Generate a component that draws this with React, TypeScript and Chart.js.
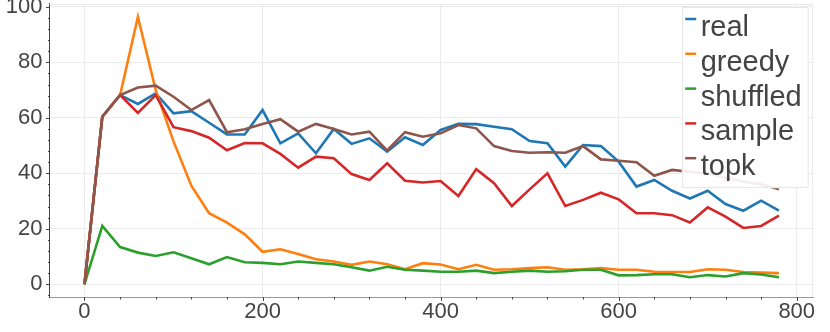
import React, { useEffect, useRef } from "react";
import { Chart, registerables } from "chart.js";

Chart.register(...registerables);

const X_VALUES = [
  0, 20, 40, 60, 80, 100, 120, 140, 160, 180, 200, 220, 240, 260, 280, 300, 320, 340, 360, 380,
  400, 420, 440, 460, 480, 500, 520, 540, 560, 580, 600, 620, 640, 660, 680, 700, 720, 740, 760, 780,
];

const REAL = [
  0, 60.4, 68.2, 65.0, 68.8, 61.6, 62.4, 58.2, 54.0, 54.0, 62.8, 50.8, 54.4, 47.2, 56.0, 50.6, 52.6, 47.8, 53.0, 50.2,
  55.6, 57.8, 57.7, 56.8, 55.9, 51.6, 50.8, 42.4, 50.2, 49.8, 44.2, 35.2, 37.6, 33.7, 30.9, 33.7, 28.9, 26.5, 30.1, 26.5,
];
const GREEDY = [
  0, 60.4, 68.2, 96.4, 70.0, 51.5, 35.5, 25.6, 22.2, 18.0, 11.7, 12.6, 10.9, 9.0, 8.2, 7.0, 8.2, 7.2, 5.4, 7.6,
  7.1, 5.4, 7.0, 5.2, 5.4, 5.8, 6.1, 5.2, 5.4, 5.8, 5.2, 5.2, 4.5, 4.4, 4.4, 5.4, 5.2, 4.4, 4.2, 4.0,
];
const SHUFFLED = [
  0, 21.0, 13.4, 11.4, 10.2, 11.5, 9.4, 7.2, 9.8, 7.9, 7.7, 7.2, 8.2, 7.7, 7.2, 6.1, 4.9, 6.3, 5.2, 4.9,
  4.5, 4.5, 4.9, 4.0, 4.5, 4.9, 4.5, 4.7, 5.2, 5.2, 3.2, 3.3, 3.6, 3.6, 2.5, 3.3, 2.8, 4.0, 3.5, 2.5,
];
const SAMPLE = [
  0, 60.4, 68.2, 61.8, 68.2, 56.6, 55.2, 52.8, 48.3, 50.9, 50.8, 47.0, 42.0, 46.0, 45.4, 39.7, 37.6, 43.6, 37.3, 36.7,
  37.2, 31.8, 41.5, 36.4, 28.2, 34.2, 40.0, 28.2, 30.4, 33.0, 30.6, 25.6, 25.6, 24.9, 22.3, 27.7, 24.4, 20.3, 21.0, 24.7,
];
const TOPK = [
  0, 60.4, 68.2, 70.9, 71.6, 67.6, 62.8, 66.4, 54.8, 55.9, 57.8, 59.5, 55.0, 57.8, 56.0, 54.0, 55.0, 48.2, 54.8, 53.2,
  54.4, 57.4, 56.2, 49.8, 48.0, 47.4, 47.6, 47.4, 49.8, 45.0, 44.5, 44.0, 39.1, 41.2, 40.5, 39.8, 38.5, 37.0, 36.0, 34.2,
];

const SERIES_LABELS = ["real", "greedy", "shuffled", "sample", "topk"];
const SERIES_VALUES = [REAL, GREEDY, SHUFFLED, SAMPLE, TOPK];
const SERIES_COLORS = ["#1f77b4", "#ff7f0e", "#2ca02c", "#d62728", "#8c564b"];

const X_MAJOR_TICKS = [0, 200, 400, 600, 800];
const X_MINOR_TICKS = [0, 40, 80, 120, 160, 200, 240, 280, 320, 360, 400, 440, 480, 520, 560, 600, 640, 680, 720, 760, 800];
const Y_MAJOR_TICKS = [0, 20, 40, 60, 80, 100];
const Y_MINOR_TICKS = [
  -4, 0, 4, 8, 12, 16, 20, 24, 28, 32, 36, 40, 44, 48, 52, 56, 60, 64, 68, 72, 76, 80, 84, 88, 92, 96, 100,
];

const FONT = "'Liberation Sans', Arial, sans-serif";
const TEXT_COLOR = "#444444";
const GRID_COLOR = "#ebebeb";

const framePlugin = {
  id: "frameTicks",
  beforeDatasetsDraw(chart: any) {
    const { ctx, chartArea } = chart;
    ctx.save();
    ctx.strokeStyle = GRID_COLOR;
    ctx.lineWidth = 1;
    ctx.beginPath();
    ctx.moveTo(chartArea.left, Math.round(chartArea.top) + 0.5);
    ctx.lineTo(chartArea.right, Math.round(chartArea.top) + 0.5);
    ctx.moveTo(Math.round(chartArea.right) - 0.5, chartArea.top);
    ctx.lineTo(Math.round(chartArea.right) - 0.5, chartArea.bottom);
    ctx.stroke();
    ctx.restore();
  },
  afterDraw(chart: any) {
    const { ctx, chartArea, scales } = chart;
    ctx.save();
    ctx.lineWidth = 1;
    ctx.strokeStyle = TEXT_COLOR;
    ctx.beginPath();
    const bottom = Math.round(chartArea.bottom);
    X_MINOR_TICKS.forEach((v) => {
      const px = Math.round(scales.x.getPixelForValue(v)) + 0.5;
      const len = X_MAJOR_TICKS.includes(v) ? 4 : 2.5;
      ctx.moveTo(px, bottom);
      ctx.lineTo(px, bottom + len);
    });
    const left = Math.round(chartArea.left);
    Y_MINOR_TICKS.forEach((v) => {
      const py = Math.round(scales.y.getPixelForValue(v)) + 0.5;
      const len = Y_MAJOR_TICKS.includes(v) ? 4 : 2;
      ctx.moveTo(left, py);
      ctx.lineTo(left - len, py);
    });
    ctx.stroke();
    ctx.restore();

    // legend
    const x0 = chartArea.right - 131.6;
    const y0 = chartArea.top + 3.8;
    const w = 126.6;
    const h = 181;
    ctx.save();
    ctx.fillStyle = "rgba(255,255,255,0.9)";
    ctx.fillRect(x0, y0, w, h);
    ctx.strokeStyle = "#e6e6e6";
    ctx.lineWidth = 1;
    ctx.strokeRect(Math.round(x0) + 0.5, Math.round(y0) + 0.5, w - 1, h - 1);
    ctx.font = `29px ${FONT}`;
    ctx.textBaseline = "alphabetic";
    ctx.textAlign = "left";
    chart.data.datasets.forEach((ds: any, i: number) => {
      const by = y0 + 28.7 + i * 34.8;
      ctx.strokeStyle = ds.borderColor;
      ctx.lineWidth = 2.5;
      ctx.beginPath();
      ctx.moveTo(x0 + 3.5, by - 17);
      ctx.lineTo(x0 + 14.5, by - 17);
      ctx.stroke();
      ctx.fillStyle = TEXT_COLOR;
      ctx.fillText(ds.label, x0 + 19, by);
    });
    ctx.restore();
  },
};

export default function App() {
  const canvasRef = useRef<HTMLCanvasElement | null>(null);

  useEffect(() => {
    if (!canvasRef.current) return;
    const datasets = SERIES_LABELS.map((label, i) => ({
      label,
      data: X_VALUES.map((x, j) => ({ x, y: SERIES_VALUES[i][j] })),
      borderColor: SERIES_COLORS[i],
      backgroundColor: SERIES_COLORS[i],
      borderWidth: 2.6,
      pointRadius: 0,
      pointHoverRadius: 0,
      tension: 0,
      fill: false,
      order: SERIES_LABELS.length - i,
    }));

    const chart = new Chart(canvasRef.current, {
      type: "line",
      data: { datasets },
      options: {
        animation: false,
        responsive: true,
        maintainAspectRatio: false,
        layout: { padding: { left: 0, top: 3.5, right: 16.7, bottom: 0 } },
        plugins: {
          legend: { display: false },
          tooltip: { enabled: false },
        },
        events: [],
        scales: {
          x: {
            type: "linear",
            min: -39.3,
            max: 818.6,
            afterBuildTicks: (axis: any) => {
              axis.ticks = X_MAJOR_TICKS.map((v) => ({ value: v }));
            },
            afterFit: (axis: any) => {
              axis.height = 35;
              axis.paddingLeft = 0;
              axis.paddingRight = 0;
            },
            ticks: {
              font: { family: FONT, size: 22 },
              color: TEXT_COLOR,
              padding: 2,
              maxRotation: 0,
              autoSkip: false,
              callback: (v: any) => String(v),
            },
            grid: { color: GRID_COLOR, lineWidth: 1, drawTicks: false },
            border: { display: true, color: "#999999", width: 1 },
          },
          y: {
            type: "linear",
            min: -4.6,
            max: 101.2,
            afterBuildTicks: (axis: any) => {
              axis.ticks = Y_MAJOR_TICKS.map((v) => ({ value: v }));
            },
            afterFit: (axis: any) => {
              axis.width = 49.5;
              axis.paddingTop = 0;
              axis.paddingBottom = 0;
            },
            ticks: {
              font: { family: FONT, size: 22 },
              color: TEXT_COLOR,
              padding: 7,
              autoSkip: false,
              callback: (v: any) => String(v),
            },
            grid: { color: GRID_COLOR, lineWidth: 1, drawTicks: false },
            border: { display: true, color: "#444444", width: 1 },
          },
        },
      },
      plugins: [framePlugin],
    });
    return () => chart.destroy();
  }, []);

  return (
    <div style={{ position: "absolute", left: 0, top: 0, width: 830, height: 332, background: "#ffffff" }}>
      <canvas ref={canvasRef} />
    </div>
  );
}
